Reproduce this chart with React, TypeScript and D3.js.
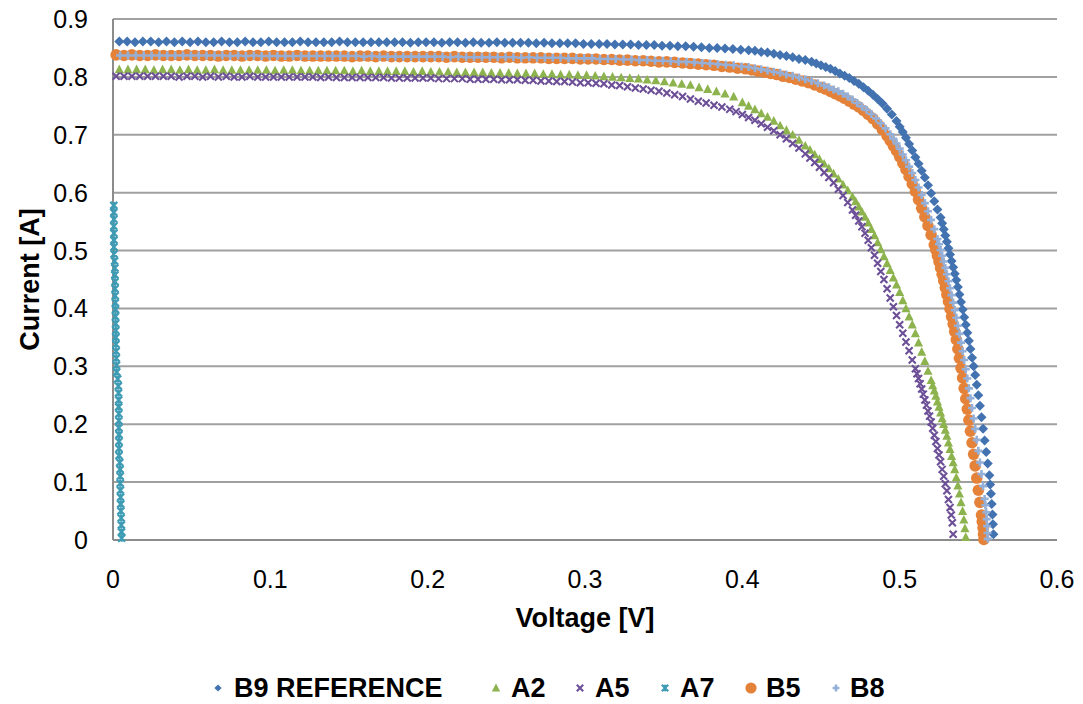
import React from "react";
import * as d3 from "d3";

// I-V sweeps: [voltage V, current A]
const seriesNames = ["B9 REFERENCE", "A2", "A5", "A7", "B5", "B8"];

const b9Reference: [number, number][] = [
  [0.004,0.861],[0.009,0.861],[0.014,0.860],[0.019,0.861],[0.024,0.861],[0.029,0.860],[0.034,0.861],[0.039,0.860],[0.044,0.861],[0.049,0.860],
  [0.054,0.861],[0.059,0.860],[0.064,0.860],[0.069,0.861],[0.074,0.860],[0.079,0.860],[0.084,0.861],[0.089,0.860],[0.094,0.860],[0.099,0.861],
  [0.104,0.860],[0.109,0.860],[0.114,0.860],[0.119,0.861],[0.124,0.860],[0.129,0.860],[0.134,0.860],[0.139,0.860],[0.144,0.861],[0.149,0.860],
  [0.154,0.860],[0.159,0.860],[0.164,0.860],[0.169,0.860],[0.174,0.860],[0.179,0.860],[0.184,0.860],[0.189,0.859],[0.194,0.860],[0.199,0.860],
  [0.204,0.860],[0.209,0.859],[0.214,0.860],[0.219,0.860],[0.224,0.859],[0.229,0.860],[0.234,0.859],[0.239,0.859],[0.244,0.860],[0.249,0.859],
  [0.254,0.859],[0.259,0.859],[0.264,0.859],[0.269,0.858],[0.274,0.859],[0.279,0.858],[0.284,0.858],[0.289,0.858],[0.294,0.858],[0.299,0.857],
  [0.304,0.857],[0.309,0.857],[0.314,0.857],[0.319,0.856],[0.324,0.856],[0.329,0.856],[0.334,0.855],[0.339,0.855],[0.344,0.855],[0.349,0.854],
  [0.354,0.854],[0.359,0.853],[0.364,0.853],[0.369,0.852],[0.374,0.851],[0.379,0.850],[0.384,0.850],[0.389,0.849],[0.394,0.848],[0.399,0.847],
  [0.404,0.846],[0.408,0.845],[0.412,0.843],[0.416,0.842],[0.420,0.840],[0.424,0.838],[0.428,0.836],[0.432,0.834],[0.436,0.831],[0.440,0.829],
  [0.444,0.826],[0.447,0.823],[0.450,0.820],[0.453,0.817],[0.456,0.814],[0.459,0.810],[0.462,0.806],[0.465,0.802],[0.468,0.798],[0.471,0.793],
  [0.474,0.788],[0.477,0.782],[0.480,0.776],[0.483,0.769],[0.486,0.762],[0.489,0.754],[0.492,0.745],[0.495,0.735],[0.498,0.724],[0.500,0.714],
  [0.502,0.705],[0.504,0.695],[0.506,0.684],[0.508,0.673],[0.510,0.661],[0.512,0.650],[0.514,0.638],[0.516,0.626],[0.518,0.613],[0.520,0.599],
  [0.522,0.585],[0.524,0.571],[0.526,0.557],[0.527,0.547],[0.528,0.537],[0.529,0.526],[0.530,0.515],[0.531,0.504],[0.532,0.493],[0.533,0.482],
  [0.534,0.471],[0.535,0.460],[0.536,0.449],[0.537,0.437],[0.538,0.424],[0.539,0.411],[0.540,0.398],[0.541,0.385],[0.542,0.372],[0.543,0.358],
  [0.544,0.344],[0.545,0.330],[0.546,0.315],[0.547,0.300],[0.548,0.285],[0.549,0.268],[0.550,0.250],[0.551,0.232],[0.552,0.212],[0.553,0.192],
  [0.554,0.172],[0.555,0.152],[0.556,0.132],[0.557,0.112],[0.5575,0.096],[0.558,0.080],[0.5585,0.062],[0.559,0.044],[0.5593,0.027],[0.5596,0.010],
];

const a2: [number, number][] = [
  [0.004,0.813],[0.0095,0.813],[0.015,0.813],[0.0205,0.813],[0.026,0.812],[0.0315,0.813],[0.037,0.813],[0.0425,0.812],[0.048,0.813],[0.0535,0.812],
  [0.059,0.812],[0.0645,0.813],[0.070,0.812],[0.0755,0.812],[0.081,0.812],[0.0865,0.812],[0.092,0.812],[0.0975,0.812],[0.103,0.811],[0.1085,0.812],
  [0.114,0.812],[0.1195,0.811],[0.125,0.811],[0.1305,0.811],[0.136,0.811],[0.1415,0.811],[0.147,0.811],[0.1525,0.810],[0.158,0.811],[0.1635,0.810],
  [0.169,0.810],[0.1745,0.810],[0.180,0.810],[0.1855,0.810],[0.191,0.809],[0.1965,0.810],[0.202,0.809],[0.2075,0.809],[0.213,0.809],[0.2185,0.808],
  [0.224,0.808],[0.2295,0.808],[0.235,0.808],[0.2405,0.807],[0.246,0.807],[0.2515,0.807],[0.257,0.806],[0.2625,0.806],[0.268,0.806],[0.2735,0.805],
  [0.279,0.805],[0.2845,0.804],[0.290,0.804],[0.2955,0.803],[0.301,0.803],[0.3065,0.802],[0.312,0.801],[0.3175,0.800],[0.323,0.799],[0.3285,0.798],
  [0.334,0.797],[0.3395,0.795],[0.345,0.794],[0.3505,0.792],[0.356,0.790],[0.3615,0.788],[0.367,0.786],[0.3725,0.782],[0.378,0.779],[0.3835,0.775],
  [0.389,0.771],[0.3945,0.766],[0.400,0.756],[0.404,0.750],[0.408,0.744],[0.412,0.737],[0.416,0.731],[0.420,0.724],[0.424,0.716],[0.428,0.708],
  [0.432,0.700],[0.436,0.691],[0.440,0.681],[0.443,0.674],[0.446,0.666],[0.449,0.658],[0.452,0.650],[0.455,0.642],[0.458,0.633],[0.461,0.624],
  [0.464,0.614],[0.467,0.604],[0.470,0.593],[0.472,0.585],[0.474,0.576],[0.476,0.567],[0.478,0.558],[0.480,0.548],[0.482,0.537],[0.484,0.526],
  [0.486,0.514],[0.488,0.502],[0.490,0.490],[0.492,0.478],[0.494,0.466],[0.496,0.453],[0.498,0.441],[0.500,0.428],[0.502,0.414],[0.504,0.400],
  [0.506,0.386],[0.508,0.372],[0.510,0.357],[0.512,0.341],[0.514,0.325],[0.516,0.309],[0.518,0.292],[0.520,0.276],[0.521,0.267],[0.522,0.258],
  [0.523,0.249],[0.524,0.239],[0.525,0.230],[0.526,0.220],[0.527,0.210],[0.528,0.200],[0.529,0.190],[0.530,0.180],[0.531,0.168],[0.532,0.157],
  [0.533,0.145],[0.534,0.134],[0.535,0.122],[0.536,0.108],[0.537,0.094],[0.538,0.080],[0.539,0.065],[0.540,0.050],[0.5408,0.035],[0.5415,0.020],
  [0.542,0.005],
];

const a5: [number, number][] = [
  [0.002,0.801],[0.007,0.801],[0.012,0.801],[0.017,0.801],[0.022,0.801],[0.027,0.801],[0.032,0.801],[0.037,0.801],[0.042,0.800],[0.047,0.801],
  [0.052,0.801],[0.057,0.800],[0.062,0.801],[0.067,0.800],[0.072,0.801],[0.077,0.800],[0.082,0.800],[0.087,0.801],[0.092,0.800],[0.097,0.800],
  [0.102,0.800],[0.107,0.800],[0.112,0.800],[0.117,0.800],[0.122,0.800],[0.127,0.800],[0.132,0.799],[0.137,0.800],[0.142,0.799],[0.147,0.799],
  [0.152,0.799],[0.157,0.799],[0.162,0.799],[0.167,0.799],[0.172,0.799],[0.177,0.798],[0.182,0.798],[0.187,0.798],[0.192,0.798],[0.197,0.798],
  [0.202,0.798],[0.207,0.797],[0.212,0.797],[0.217,0.797],[0.222,0.797],[0.227,0.796],[0.232,0.796],[0.237,0.796],[0.242,0.796],[0.247,0.795],
  [0.252,0.795],[0.257,0.795],[0.262,0.794],[0.267,0.794],[0.272,0.793],[0.277,0.793],[0.282,0.792],[0.287,0.792],[0.292,0.791],[0.297,0.790],
  [0.302,0.790],[0.307,0.789],[0.312,0.788],[0.317,0.786],[0.322,0.785],[0.327,0.783],[0.332,0.781],[0.337,0.779],[0.342,0.777],[0.347,0.775],
  [0.352,0.772],[0.357,0.769],[0.362,0.766],[0.367,0.762],[0.372,0.758],[0.377,0.755],[0.382,0.751],[0.387,0.748],[0.392,0.744],[0.396,0.740],
  [0.400,0.735],[0.404,0.730],[0.408,0.725],[0.412,0.719],[0.416,0.713],[0.420,0.707],[0.424,0.700],[0.428,0.693],[0.432,0.685],[0.436,0.677],
  [0.440,0.667],[0.443,0.660],[0.446,0.652],[0.449,0.644],[0.452,0.635],[0.455,0.626],[0.458,0.617],[0.461,0.606],[0.464,0.595],[0.467,0.583],
  [0.470,0.570],[0.472,0.561],[0.474,0.551],[0.476,0.541],[0.478,0.530],[0.480,0.518],[0.482,0.505],[0.484,0.492],[0.486,0.478],[0.488,0.464],
  [0.490,0.450],[0.492,0.434],[0.494,0.418],[0.496,0.403],[0.498,0.388],[0.500,0.372],[0.502,0.357],[0.504,0.342],[0.506,0.327],[0.508,0.311],
  [0.510,0.296],[0.511,0.287],[0.512,0.279],[0.513,0.270],[0.514,0.261],[0.515,0.252],[0.516,0.242],[0.517,0.233],[0.518,0.223],[0.519,0.214],
  [0.520,0.204],[0.521,0.193],[0.522,0.181],[0.523,0.170],[0.524,0.158],[0.525,0.147],[0.526,0.135],[0.527,0.122],[0.528,0.110],[0.529,0.097],
  [0.530,0.085],[0.531,0.070],[0.532,0.056],[0.5328,0.043],[0.5335,0.030],[0.534,0.010],
];

const a7: [number, number][] = [
  [0.0005,0.578],[0.0005,0.566],[0.0006,0.554],[0.0005,0.542],[0.0006,0.530],[0.0006,0.518],[0.0006,0.506],[0.0007,0.494],[0.0010,0.482],[0.0012,0.470],
  [0.0012,0.458],[0.0013,0.446],[0.0013,0.434],[0.0014,0.422],[0.0015,0.410],[0.0016,0.398],[0.0016,0.386],[0.0017,0.374],[0.0018,0.362],[0.0018,0.350],
  [0.0019,0.338],[0.0020,0.326],[0.0021,0.314],[0.0022,0.302],[0.0023,0.290],[0.0030,0.278],[0.0034,0.266],[0.0035,0.254],[0.0036,0.242],[0.0036,0.230],
  [0.0037,0.218],[0.0037,0.206],[0.0037,0.194],[0.0038,0.182],[0.0038,0.170],[0.0038,0.158],[0.0038,0.146],[0.0043,0.134],[0.0045,0.122],[0.0046,0.110],
  [0.0046,0.098],[0.0047,0.086],[0.0048,0.074],[0.0049,0.062],[0.0050,0.050],[0.0052,0.038],[0.0053,0.026],[0.0054,0.014],[0.0055,0.003],
];

const b5: [number, number][] = [
  [0.002,0.838],[0.007,0.837],[0.012,0.838],[0.017,0.837],[0.022,0.837],[0.027,0.838],[0.032,0.837],[0.037,0.837],[0.042,0.837],[0.047,0.838],
  [0.052,0.837],[0.057,0.837],[0.062,0.837],[0.067,0.836],[0.072,0.837],[0.077,0.837],[0.082,0.836],[0.087,0.837],[0.092,0.837],[0.097,0.836],
  [0.102,0.837],[0.107,0.836],[0.112,0.836],[0.117,0.837],[0.122,0.836],[0.127,0.836],[0.132,0.836],[0.137,0.836],[0.142,0.836],[0.147,0.836],
  [0.152,0.835],[0.157,0.836],[0.162,0.836],[0.167,0.835],[0.172,0.836],[0.177,0.835],[0.182,0.835],[0.187,0.835],[0.192,0.835],[0.197,0.835],
  [0.202,0.835],[0.207,0.835],[0.212,0.834],[0.217,0.835],[0.222,0.834],[0.227,0.834],[0.232,0.834],[0.237,0.834],[0.242,0.834],[0.247,0.833],
  [0.252,0.834],[0.257,0.833],[0.262,0.833],[0.267,0.833],[0.272,0.833],[0.277,0.832],[0.282,0.832],[0.287,0.832],[0.292,0.832],[0.297,0.831],
  [0.302,0.831],[0.307,0.831],[0.312,0.830],[0.317,0.830],[0.322,0.829],[0.327,0.829],[0.332,0.828],[0.337,0.828],[0.342,0.827],[0.347,0.826],
  [0.352,0.826],[0.357,0.825],[0.362,0.824],[0.367,0.823],[0.372,0.822],[0.377,0.821],[0.382,0.820],[0.387,0.818],[0.392,0.817],[0.397,0.815],
  [0.402,0.814],[0.406,0.812],[0.410,0.810],[0.414,0.808],[0.418,0.806],[0.422,0.804],[0.426,0.801],[0.430,0.799],[0.434,0.796],[0.438,0.793],
  [0.442,0.790],[0.446,0.786],[0.450,0.782],[0.453,0.779],[0.456,0.775],[0.459,0.771],[0.462,0.767],[0.465,0.763],[0.468,0.758],[0.471,0.753],
  [0.474,0.748],[0.477,0.742],[0.480,0.735],[0.483,0.728],[0.486,0.719],[0.489,0.709],[0.492,0.698],[0.494,0.690],[0.496,0.681],[0.498,0.672],
  [0.500,0.662],[0.502,0.651],[0.504,0.640],[0.506,0.628],[0.508,0.615],[0.510,0.602],[0.512,0.588],[0.514,0.573],[0.516,0.558],[0.518,0.543],
  [0.520,0.527],[0.522,0.510],[0.523,0.501],[0.524,0.491],[0.525,0.481],[0.526,0.470],[0.527,0.459],[0.528,0.448],[0.529,0.436],[0.530,0.424],
  [0.531,0.412],[0.532,0.399],[0.533,0.386],[0.534,0.373],[0.535,0.360],[0.536,0.346],[0.537,0.330],[0.538,0.314],[0.539,0.297],[0.540,0.280],
  [0.541,0.262],[0.542,0.244],[0.543,0.226],[0.544,0.207],[0.545,0.188],[0.546,0.168],[0.547,0.148],[0.548,0.128],[0.549,0.107],[0.550,0.086],
  [0.551,0.065],[0.552,0.043],[0.5525,0.032],[0.553,0.021],[0.5533,0.010],[0.5535,0.001],
];

const b8: [number, number][] = [
  [0.0045,0.837],[0.0095,0.837],[0.0145,0.837],[0.0195,0.837],[0.0245,0.837],[0.0295,0.837],[0.0345,0.837],[0.0395,0.837],[0.0445,0.837],[0.0495,0.837],
  [0.0545,0.837],[0.0595,0.837],[0.0645,0.837],[0.0695,0.837],[0.0745,0.836],[0.0795,0.837],[0.0845,0.836],[0.0895,0.837],[0.0945,0.836],[0.0995,0.836],
  [0.1045,0.836],[0.1095,0.836],[0.1145,0.836],[0.1195,0.836],[0.1245,0.836],[0.1295,0.836],[0.1345,0.836],[0.1395,0.836],[0.1445,0.836],[0.1495,0.836],
  [0.1545,0.836],[0.1595,0.835],[0.1645,0.836],[0.1695,0.835],[0.1745,0.835],[0.1795,0.835],[0.1845,0.835],[0.1895,0.835],[0.1945,0.835],[0.1995,0.835],
  [0.2045,0.835],[0.2095,0.835],[0.2145,0.834],[0.2195,0.835],[0.2245,0.834],[0.2295,0.834],[0.2345,0.834],[0.2395,0.834],[0.2445,0.834],[0.2495,0.834],
  [0.2545,0.834],[0.2595,0.833],[0.2645,0.834],[0.2695,0.833],[0.2745,0.833],[0.2795,0.833],[0.2845,0.833],[0.2895,0.832],[0.2945,0.832],[0.2995,0.832],
  [0.3045,0.832],[0.3095,0.831],[0.3145,0.831],[0.3195,0.831],[0.3245,0.830],[0.3295,0.830],[0.3345,0.829],[0.3395,0.829],[0.3445,0.828],[0.3495,0.828],
  [0.3545,0.827],[0.3595,0.826],[0.3645,0.826],[0.3695,0.825],[0.3745,0.824],[0.3795,0.823],[0.3845,0.822],[0.3895,0.821],[0.3945,0.820],[0.3995,0.818],
  [0.404,0.817],[0.408,0.815],[0.412,0.813],[0.416,0.811],[0.420,0.809],[0.424,0.807],[0.428,0.804],[0.432,0.802],[0.436,0.799],[0.440,0.796],
  [0.444,0.793],[0.448,0.789],[0.452,0.785],[0.455,0.782],[0.458,0.778],[0.461,0.775],[0.464,0.771],[0.467,0.766],[0.470,0.761],[0.473,0.755],
  [0.476,0.749],[0.479,0.743],[0.482,0.736],[0.485,0.728],[0.488,0.720],[0.491,0.711],[0.494,0.701],[0.496,0.693],[0.498,0.685],[0.500,0.676],
  [0.502,0.666],[0.504,0.656],[0.506,0.645],[0.508,0.634],[0.510,0.622],[0.512,0.609],[0.514,0.596],[0.516,0.582],[0.518,0.568],[0.520,0.553],
  [0.522,0.537],[0.524,0.520],[0.525,0.511],[0.526,0.501],[0.527,0.491],[0.528,0.481],[0.529,0.470],[0.530,0.459],[0.531,0.447],[0.532,0.435],
  [0.533,0.423],[0.534,0.410],[0.535,0.397],[0.536,0.384],[0.537,0.370],[0.538,0.356],[0.539,0.341],[0.540,0.326],[0.541,0.311],[0.542,0.295],
  [0.543,0.279],[0.544,0.262],[0.545,0.245],[0.546,0.228],[0.547,0.210],[0.548,0.192],[0.549,0.173],[0.550,0.154],[0.551,0.134],[0.552,0.114],
  [0.553,0.093],[0.554,0.071],[0.5545,0.060],[0.555,0.048],[0.5553,0.036],[0.5556,0.024],[0.5558,0.012],[0.556,0.002],
];

const xTicks = [0, 0.1, 0.2, 0.3, 0.4, 0.5, 0.6];
const yTicks = [0, 0.1, 0.2, 0.3, 0.4, 0.5, 0.6, 0.7, 0.8, 0.9];

const colors = ["#4272B0", "#8DB34F", "#6C4F97", "#3E9BB4", "#E4823A", "#95B0D8"];
const seriesData = [b9Reference, a2, a5, a7, b5, b8];
const markerKinds = ["diamond", "triangle", "cross", "star", "circle", "plus"];

const W = 1083;
const H = 704;
const M = { left: 113, right: 1057, top: 19, bottom: 540 };
const FONT = "'Liberation Sans', Arial, sans-serif";

function Marker({ kind, x, y, color, s }: { kind: string; x: number; y: number; color: string; s: number }) {
  switch (kind) {
    case "diamond":
      return <path d={`M${x},${y - s}L${x + s},${y}L${x},${y + s}L${x - s},${y}Z`} fill={color} />;
    case "triangle":
      return <path d={`M${x},${y - s}L${x + s * 0.95},${y + s * 0.8}L${x - s * 0.95},${y + s * 0.8}Z`} fill={color} />;
    case "cross":
      return (
        <path d={`M${x - s},${y - s}L${x + s},${y + s}M${x - s},${y + s}L${x + s},${y - s}`} stroke={color} strokeWidth={2.1} fill="none" />
      );
    case "star":
      return (
        <path
          d={`M${x - s},${y - s}L${x + s},${y + s}M${x - s},${y + s}L${x + s},${y - s}M${x},${y - s}L${x},${y + s}`}
          stroke={color}
          strokeWidth={2.2}
          fill="none"
        />
      );
    case "circle":
      return <circle cx={x} cy={y} r={s} fill={color} />;
    case "plus":
    default:
      return <path d={`M${x - s},${y}L${x + s},${y}M${x},${y - s}L${x},${y + s}`} stroke={color} strokeWidth={2.6} fill="none" />;
  }
}

const markerSize: Record<string, number> = { diamond: 5, triangle: 4.8, cross: 3.5, star: 3.5, circle: 5.8, plus: 4 };
const legendMarkerSize: Record<string, number> = { diamond: 3.6, triangle: 4.4, cross: 3.2, star: 3.2, circle: 5.6, plus: 3.4 };

export default function App() {
  const x = d3.scaleLinear().domain([0, 0.6]).range([M.left, M.right]);
  const y = d3.scaleLinear().domain([0, 0.9]).range([M.bottom, M.top]);
  const fmt = d3.format("");

  // legend entries: marker x, text x
  const legendPos = [
    [218, 234],
    [496, 511],
    [580, 595],
    [665, 680],
    [751, 766],
    [836, 850],
  ];

  return (
    <svg width={W} height={H} style={{ position: "absolute", left: 0, top: 0, background: "#fff" }} fontFamily={FONT}>
      <rect x={0} y={0} width={W} height={H} fill="#fff" />
      {yTicks.filter((t) => t > 0).map((t) => (
        <line key={t} x1={M.left} x2={M.right} y1={y(t)} y2={y(t)} stroke="#A0A0A0" strokeWidth={2} />
      ))}
      <line x1={M.left} x2={M.right} y1={y(0)} y2={y(0)} stroke="#8C8C8C" strokeWidth={2} />
      <line x1={M.left} x2={M.left} y1={M.top} y2={M.bottom} stroke="#8C8C8C" strokeWidth={2} />

      {yTicks.map((t) => (
        <text key={t} x={88} y={y(t)} dy="0.36em" textAnchor="end" fontSize={25} fill="#000">
          {fmt(t)}
        </text>
      ))}
      {xTicks.map((t) => (
        <text key={t} x={x(t)} y={588} textAnchor="middle" fontSize={25} fill="#000">
          {fmt(t)}
        </text>
      ))}
      <text x={(M.left + M.right) / 2} y={627} textAnchor="middle" fontSize={27} fontWeight="bold">
        Voltage [V]
      </text>
      <text transform={`translate(39,${(M.top + M.bottom) / 2}) rotate(-90)`} textAnchor="middle" fontSize={27} fontWeight="bold">
        Current [A]
      </text>

      {seriesData.map((data, i) => (
        <g key={seriesNames[i]}>
          {data.map((d, j) => (
            <Marker key={j} kind={markerKinds[i]} x={x(d[0])} y={y(d[1])} color={colors[i]} s={markerSize[markerKinds[i]]} />
          ))}
        </g>
      ))}

      {seriesNames.map((name, i) => (
        <g key={name}>
          <Marker kind={markerKinds[i]} x={legendPos[i][0]} y={688} color={colors[i]} s={legendMarkerSize[markerKinds[i]]} />
          <text x={legendPos[i][1]} y={697} fontSize={27} fontWeight="bold">
            {name}
          </text>
        </g>
      ))}
    </svg>
  );
}
